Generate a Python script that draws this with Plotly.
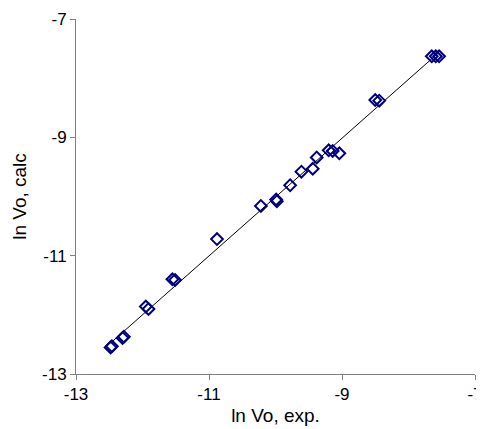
import numpy as np
import plotly.graph_objects as go

ln_vo_exp = [-12.48, -12.46, -12.30, -12.28, -11.95, -11.91, -11.55, -11.51,
             -10.88, -10.22, -9.99, -9.98, -9.78, -9.61, -9.44, -9.38,
             -9.20, -9.14, -9.04, -8.50, -8.44, -7.65, -7.59, -7.54]
ln_vo_calc = [-12.55, -12.53, -12.39, -12.37, -11.86, -11.90, -11.40, -11.41,
              -10.72, -10.16, -10.05, -10.08, -9.81, -9.58, -9.53, -9.34,
              -9.22, -9.23, -9.27, -8.37, -8.38, -7.63, -7.63, -7.63]
tick_vals = [-13, -11, -9, -7]

fit = np.polyfit(ln_vo_exp, ln_vo_calc, 1)
x_line = np.array([min(ln_vo_exp), max(ln_vo_exp)])
y_line = np.polyval(fit, x_line)

fig = go.Figure()
fig.add_trace(go.Scatter(x=x_line, y=y_line, mode="lines",
                         line=dict(color="black", width=1), showlegend=False,
                         hoverinfo="skip"))
fig.add_trace(go.Scatter(x=ln_vo_exp, y=ln_vo_calc, mode="markers",
                         marker=dict(symbol="diamond-open", size=9,
                                     color="#000080",
                                     line=dict(width=2, color="#000080")),
                         showlegend=False))

font = "Arial, Liberation Sans, sans-serif"
axis_common = dict(range=[-13, -7], tickvals=tick_vals,
                   ticktext=[str(v) for v in tick_vals],
                   showgrid=False, zeroline=False, showline=True,
                   linecolor="#808080", linewidth=1,
                   ticks="outside", ticklen=5, tickcolor="#808080",
                   tickfont=dict(family=font, size=17, color="black"),
                   ticklabeloverflow="allow",
                   automargin=False)

fig.update_layout(
    width=484, height=421,
    margin=dict(l=68, r=17, t=11, b=55),
    paper_bgcolor="white", plot_bgcolor="white",
    xaxis=dict(**axis_common,
               title=dict(text="ln Vo, exp.", font=dict(family=font, size=19, color="black"),
                          standoff=5)),
    yaxis=dict(**axis_common,
               title=dict(text="ln Vo, calc", font=dict(family=font, size=19, color="black"),
                          standoff=10)),
)

fig.write_html("out.html")
